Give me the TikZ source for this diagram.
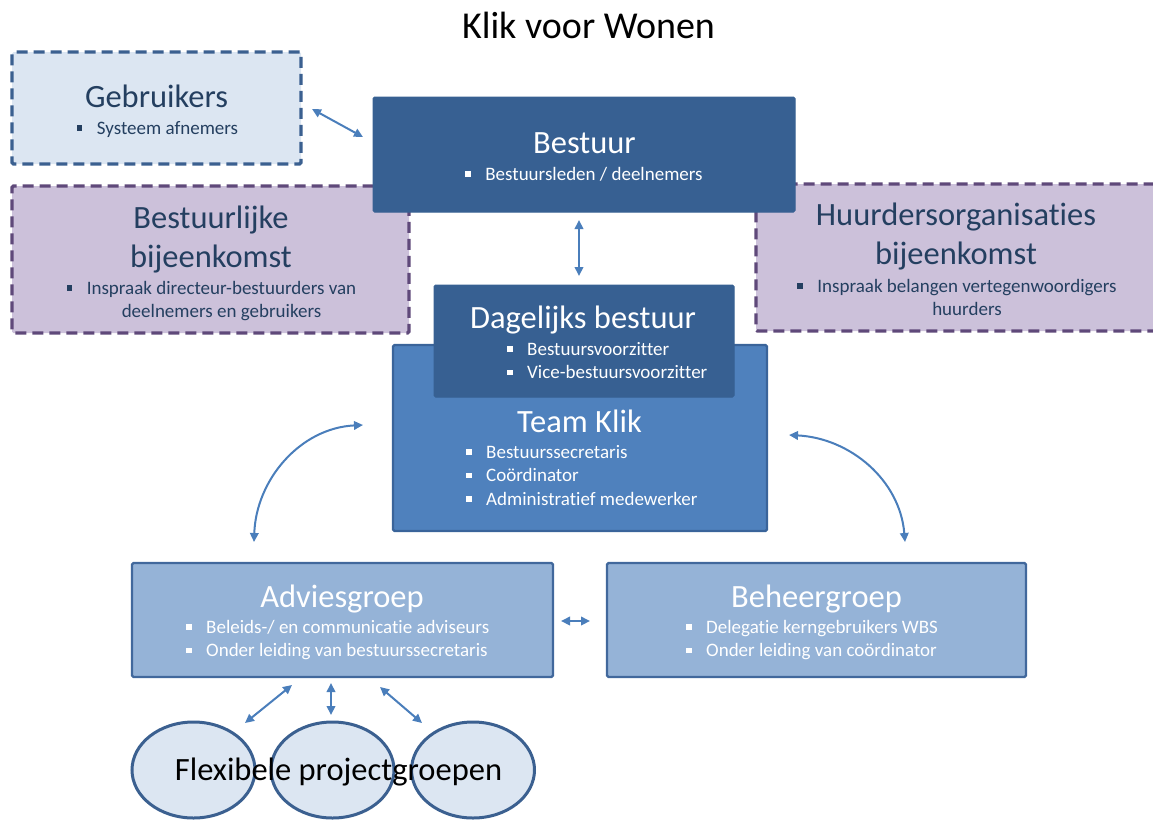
\documentclass[tikz,border=0pt]{standalone}
\usepackage{fontspec}
\setmainfont{Carlito}[Ligatures={NoCommon}]
\usetikzlibrary{arrows.meta,shapes.geometric}
\definecolor{navytxt}{HTML}{243F60}
\definecolor{dashblue}{HTML}{3B6090}
\definecolor{lightfill}{HTML}{DCE6F2}
\definecolor{purfill}{HTML}{CCC1DA}
\definecolor{purline}{HTML}{5F497A}
\definecolor{darkfill}{HTML}{376092}
\definecolor{midfill}{HTML}{4F81BD}
\definecolor{midline}{HTML}{3A649A}
\definecolor{palefill}{HTML}{95B3D7}
\definecolor{paleline}{HTML}{41689C}
\definecolor{arrowc}{HTML}{4A7EBB}
\newcommand\bul{\makebox[20pt][l]{\raisebox{3.5pt}{\rule{5.5pt}{5.5pt}}}}
\newcommand\titlefont{\fontsize{32.5}{39.5}\selectfont}
\newcommand\itemfont{\fontsize{19}{23.5}\selectfont}
\begin{document}
\begin{tikzpicture}[x=1pt,y=-1pt,
  boxbase/.style={rectangle,inner sep=0pt,outer sep=0pt,rounded corners=1.5pt},
  dashbox/.style={boxbase,line width=3.3pt,dash pattern=on 11pt off 6pt},
  userbox/.style={dashbox,draw=dashblue,fill=lightfill},
  meetbox/.style={dashbox,draw=purline,fill=purfill},
  darkbox/.style={boxbase,fill=darkfill,draw=darkfill,line width=1pt},
  teambox/.style={boxbase,fill=midfill,draw=midline,line width=2.4pt},
  groupbox/.style={boxbase,fill=palefill,draw=paleline,line width=2.4pt},
  projell/.style={ellipse,fill=lightfill,draw=dashblue,line width=3pt,inner sep=0pt,minimum width=123pt,minimum height=96pt},
  ttl/.style={inner sep=0pt,anchor=base,font=\titlefont},
  itm/.style={inner sep=0pt,font=\itemfont},
  con/.style={{Triangle[length=9pt,width=8.5pt]}-{Triangle[length=9pt,width=8.5pt]},line width=2pt,draw=arrowc}]
\useasboundingbox (0,0) rectangle (1153,819);

% boxes
\node[userbox,minimum width=289pt,minimum height=112pt] (gebr) at (156.5,108) {};
\node[meetbox,minimum width=397pt,minimum height=147pt] (bbij) at (210.5,259.5) {};
\node[meetbox,minimum width=400pt,minimum height=147pt] (hbij) at (956,257.5) {};
\node[darkbox,minimum width=422pt,minimum height=115pt] (best) at (584,154.5) {};
\node[teambox,minimum width=374pt,minimum height=186pt] (team) at (580,438) {};
\node[darkbox,minimum width=300pt,minimum height=112pt] (dagb) at (584,341) {};
\node[groupbox,minimum width=421pt,minimum height=114pt] (advi) at (342.5,620) {};
\node[groupbox,minimum width=419pt,minimum height=114pt] (beh) at (816.5,620) {};
\node[projell] (e1) at (193.5,770) {};
\node[projell] (e2) at (332.5,770) {};
\node[projell] (e3) at (473,770) {};

% texts
\node[inner sep=0pt,anchor=base,font=\fontsize{38}{44}\selectfont] (title) at (588.5,38) {Klik voor Wonen};

\node[ttl,text=navytxt] (gebrt) at (156.5,107) {Gebruikers};
\node[itm,anchor=base,text=navytxt] (gebri) at (157.5,134) {\bul Systeem afnemers};

\node[ttl,text=navytxt] (bbijt) at (211,228) {\begin{tabular}[t]{@{}c@{}}Bestuurlijke\\bijeenkomst\end{tabular}};
\node[itm,anchor=base,text=navytxt] (bbiji) at (211.5,294) {\bul\begin{tabular}[t]{@{}c@{}}Inspraak directeur-bestuurders van\\deelnemers en gebruikers\end{tabular}};

\node[ttl,text=navytxt] (hbijt) at (956,225) {\begin{tabular}[t]{@{}c@{}}Huurdersorganisaties\\bijeenkomst\end{tabular}};
\node[itm,anchor=base,text=navytxt] (hbiji) at (957,292) {\bul\begin{tabular}[t]{@{}c@{}}Inspraak belangen vertegenwoordigers\\huurders\end{tabular}};

\node[ttl,text=white] (bestt) at (584.5,153) {Bestuur};
\node[itm,anchor=base,text=white] (besti) at (584,180) {\bul Bestuursleden / deelnemers};

\node[ttl,text=white] (dagbt) at (583,328) {Dagelijks bestuur};
\node[itm,anchor=base west,text=white] (dagbi) at (507,355) {\begin{tabular}[t]{@{}l@{}}\bul Bestuursvoorzitter\\\bul Vice-bestuursvoorzitter\end{tabular}};

\node[ttl,text=white] (teamt) at (579.5,432) {Team Klik};
\node[itm,anchor=base west,text=white] (teami) at (466,458) {\begin{tabular}[t]{@{}l@{}}\bul Bestuurssecretaris\\\bul Coördinator\\\bul Administratief medewerker\end{tabular}};

\node[ttl,text=white] (advit) at (342,607) {Adviesgroep};
\node[itm,anchor=base west,text=white] (advii) at (186,633) {\begin{tabular}[t]{@{}l@{}}\bul Beleids-/ en communicatie adviseurs\\\bul Onder leiding van bestuurssecretaris\end{tabular}};

\node[ttl,text=white] (beht) at (816.5,607) {Beheergroep};
\node[itm,anchor=base west,text=white] (behi) at (686,633) {\begin{tabular}[t]{@{}l@{}}\bul Delegatie kerngebruikers WBS\\\bul Onder leiding van coördinator\end{tabular}};

\node[ttl,text=black] (flex) at (338.5,780) {Flexibele projectgroepen};

% connector ends
\coordinate (c1a) at (312,109);
\coordinate (c1b) at (363,137);
\coordinate (c2a) at (579,220);
\coordinate (c2b) at (579,276);
\coordinate (c3a) at (363,425);
\coordinate (c3b) at (254,542);
\coordinate (c4a) at (789,435);
\coordinate (c4b) at (905,542);
\coordinate (c5a) at (561,621);
\coordinate (c5b) at (590,621);
\coordinate (c6a) at (292,685);
\coordinate (c6b) at (245,723);
\coordinate (c7a) at (331,683);
\coordinate (c7b) at (331,715);
\coordinate (c8a) at (380,687);
\coordinate (c8b) at (422,723);

\draw[con] (c1a) -- (c1b);
\draw[con] (c2a) -- (c2b);
\draw[con] (c3b) .. controls (256,480) and (300,428) .. (c3a);
\draw[con] (c4a) .. controls (850,438) and (900,480) .. (c4b);
\draw[con] (c5a) -- (c5b);
\draw[con] (c6a) -- (c6b);
\draw[con] (c7a) -- (c7b);
\draw[con] (c8a) -- (c8b);
\end{tikzpicture}
\end{document}
